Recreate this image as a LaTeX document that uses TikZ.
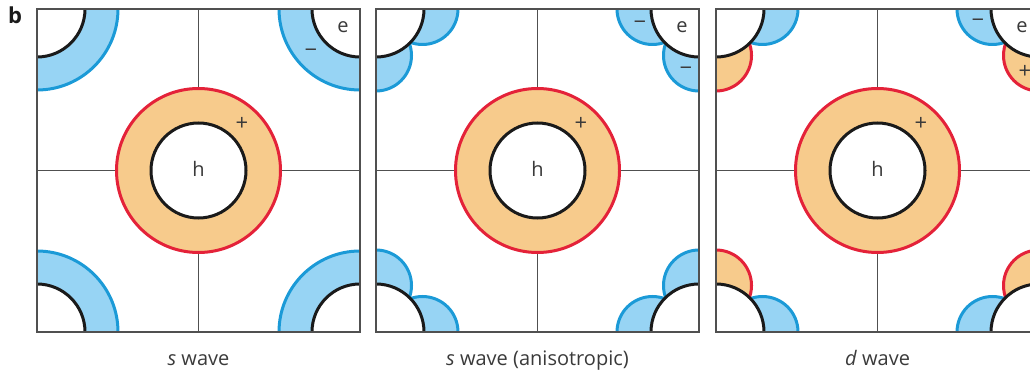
\documentclass[tikz,border=0pt]{standalone}
\usepackage{fontspec}
\setmainfont{Open Sans}
\definecolor{bfill}{HTML}{97D4F4}
\definecolor{bline}{HTML}{1B9AD7}
\definecolor{ofill}{HTML}{F7CB8C}
\definecolor{oline}{HTML}{E42239}
\definecolor{kline}{HTML}{1A1A1A}
\definecolor{gline}{HTML}{505050}
\definecolor{tcol}{HTML}{3A3A3A}
\tikzset{
  bluepart/.style={fill=bfill, draw=bline, line width=3pt},
  orangepart/.style={fill=ofill, draw=oline, line width=3pt},
  pocket/.style={fill=white, draw=kline, line width=3pt},
  frame/.style={draw=gline, line width=1.8pt},
  gridl/.style={draw=gline, line width=1.1pt},
  lbl/.style={font=\fontsize{20}{24}\selectfont, text=tcol, inner sep=0pt},
  sgn/.style={font=\fontsize{22}{24}\selectfont, text=tcol, inner sep=0pt},
}
\begin{document}
\begin{tikzpicture}[x=1pt,y=-1pt]
\useasboundingbox (0,0) rectangle (1030,374);
\node[font=\bfseries\fontsize{22}{24}\selectfont, anchor=base west, inner sep=0pt, text=kline] (b) at (8,24) {b};
% ---------- panel geometry
\def\T{9}\def\B{332}\def\M{170.5}
% ===== Panel 1 : s wave
\begin{scope}
  \clip (37,\T) rectangle (360,\B);
  \draw[gridl] (198.5,\T) -- (198.5,\B);
  \draw[gridl] (37,\M) -- (360,\M);
  \foreach \cx/\cy in {37/9,360/9,37/332,360/332}{
    \draw[bluepart] (\cx,\cy) circle (81);
    \draw[pocket] (\cx,\cy) circle (48);
  }
\end{scope}
% ===== Panel 2 : anisotropic s wave
\begin{scope}
  \clip (376,\T) rectangle (699,\B);
  \draw[gridl] (537.5,\T) -- (537.5,\B);
  \draw[gridl] (376,\M) -- (699,\M);
  \foreach \cx/\cy/\sx/\sy in {376/9/1/1,699/9/-1/1,376/332/1/-1,699/332/-1/-1}{
    \draw[bluepart] (\cx+\sx*46.5,\cy) circle (35.5);
    \draw[bluepart] (\cx,\cy+\sy*46.5) circle (35.5);
    \draw[pocket] (\cx,\cy) circle (48);
  }
\end{scope}
% ===== Panel 3 : d wave
\begin{scope}
  \clip (716,\T) rectangle (1039,\B);
  \draw[gridl] (877.5,\T) -- (877.5,\B);
  \draw[gridl] (716,\M) -- (1039,\M);
  \foreach \cx/\cy/\sx/\sy in {716/9/1/1,1039/9/-1/1,716/332/1/-1,1039/332/-1/-1}{
    \draw[bluepart] (\cx+\sx*46.5,\cy) circle (35.5);
    \draw[orangepart] (\cx,\cy+\sy*46.5) circle (35.5);
    \draw[pocket] (\cx,\cy) circle (48);
  }
\end{scope}
% ===== hole rings
\foreach \c/\n in {198.5/1,537.5/2,877.5/3}{
  \draw[orangepart] (\c,\M) circle (82);
  \draw[pocket] (\c,\M) circle (47.5);
  \node[lbl, anchor=base] (h\n) at (\c,177) {h};
  \node[sgn] (p\n) at (\c+43.5,\M-46.5) {+};
}
% ===== frames
\draw[frame] (37,\T) rectangle (360,\B);
\draw[frame] (376,\T) rectangle (699,\B);
\draw[frame] (716,\T) rectangle (1039,\B);
% ===== electron labels and signs
\node[lbl, anchor=base] (e1) at (343,33) {e};
\node[lbl, anchor=base] (e2) at (682,33) {e};
\node[lbl, anchor=base] (e3) at (1022,33) {e};
\node[sgn] (m1) at (311,53) {−};
\node[sgn] (m2a) at (640,25) {−};
\node[sgn] (m2b) at (686,71) {−};
\node[sgn] (m3) at (978,23) {−};
\node[sgn] (p3b) at (1025,72) {+};
% ===== captions
\node[lbl, anchor=base] (c1) at (198.5,365) {\textit{s} wave};
\node[lbl, anchor=base] (c2) at (537.5,365) {\textit{s} wave (anisotropic)};
\node[lbl, anchor=base] (c3) at (877.5,365) {\textit{d} wave};
\end{tikzpicture}
\end{document}
